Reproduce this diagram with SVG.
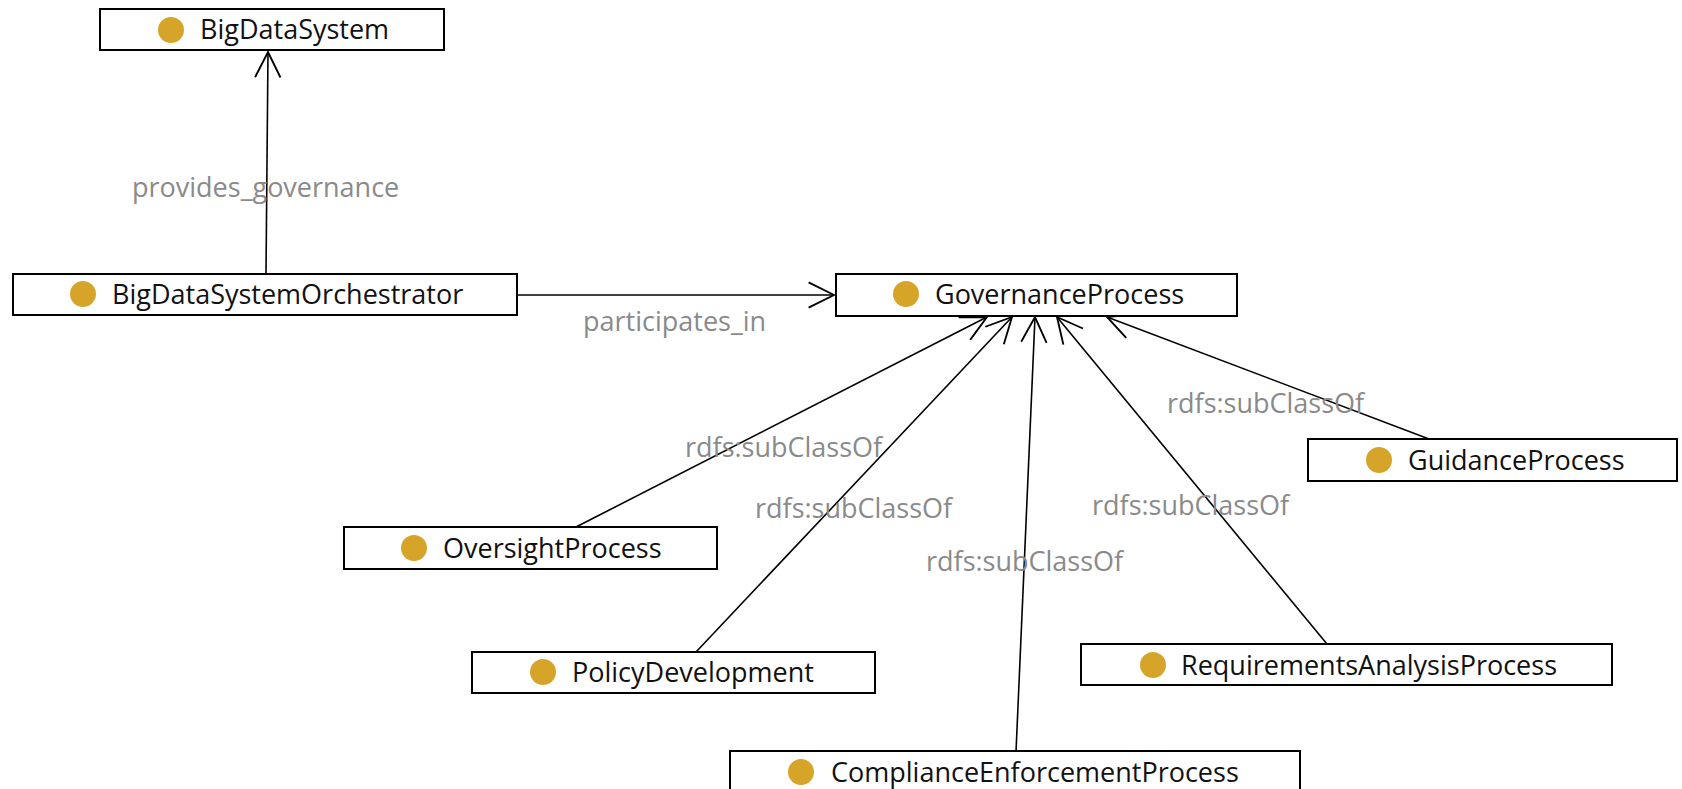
<svg xmlns="http://www.w3.org/2000/svg" width="1682" height="789" viewBox="0 0 1682 789">
  <style>
    .box { fill: #ffffff; stroke: #000000; stroke-width: 2; }
    .dot { fill: #d6a428; }
    .name { font-family: "Open Sans", "Noto Sans", "Liberation Sans", sans-serif; font-size: 27px; fill: #111111; }
    .edge { stroke: #000000; stroke-width: 1.6; fill: none; marker-end: url(#open-arrow); }
    .label { font-family: "Open Sans", "Noto Sans", "Liberation Sans", sans-serif; font-size: 27px; fill: #8a8a8a; }
  </style>
  <defs>
    <marker id="open-arrow" markerUnits="userSpaceOnUse" markerWidth="30" markerHeight="30" viewBox="-24 -13 26 26" refX="0" refY="0" orient="auto">
      <path d="M-22,-11 L0,0 L-22,11" fill="none" stroke="#000000" stroke-width="1.6"/>
    </marker>
  </defs>
  <rect width="1682" height="789" fill="#ffffff"/>

  <!-- connectors -->
  <g id="connectors">
    <line class="edge" x1="266" y1="274" x2="268" y2="52"/>
    <line class="edge" x1="517" y1="295" x2="834" y2="295"/>
    <line class="edge" x1="576" y1="527" x2="987" y2="317"/>
    <line class="edge" x1="696" y1="652" x2="1012" y2="317"/>
    <line class="edge" x1="1016" y1="752" x2="1035" y2="317"/>
    <line class="edge" x1="1327" y1="644" x2="1057" y2="317"/>
    <line class="edge" x1="1429" y1="439" x2="1107" y2="317"/>
    <text class="label" x="132" y="197">provides_governance</text>
    <text class="label" x="583" y="331">participates_in</text>
    <text class="label" x="685" y="457">rdfs:subClassOf</text>
    <text class="label" x="755" y="518">rdfs:subClassOf</text>
    <text class="label" x="926" y="571">rdfs:subClassOf</text>
    <text class="label" x="1092" y="515">rdfs:subClassOf</text>
    <text class="label" x="1167" y="413">rdfs:subClassOf</text>
  </g>

  <!-- class nodes -->
  <g id="BigDataSystem">
    <rect class="box" x="100" y="9" width="344" height="41"/>
    <circle class="dot" cx="171" cy="30" r="13"/>
    <text class="name" x="200" y="39">BigDataSystem</text>
  </g>
  <g id="BigDataSystemOrchestrator">
    <rect class="box" x="13" y="274" width="504" height="41"/>
    <circle class="dot" cx="83" cy="294" r="13"/>
    <text class="name" x="112" y="304">BigDataSystemOrchestrator</text>
  </g>
  <g id="GovernanceProcess">
    <rect class="box" x="836" y="274" width="401" height="42"/>
    <circle class="dot" cx="906" cy="294" r="13"/>
    <text class="name" x="935" y="304">GovernanceProcess</text>
  </g>
  <g id="GuidanceProcess">
    <rect class="box" x="1308" y="439" width="369" height="42"/>
    <circle class="dot" cx="1379" cy="460" r="13"/>
    <text class="name" x="1408" y="470">GuidanceProcess</text>
  </g>
  <g id="OversightProcess">
    <rect class="box" x="344" y="527" width="373" height="42"/>
    <circle class="dot" cx="414" cy="548" r="13"/>
    <text class="name" x="443" y="558">OversightProcess</text>
  </g>
  <g id="PolicyDevelopment">
    <rect class="box" x="472" y="652" width="403" height="41"/>
    <circle class="dot" cx="543" cy="672" r="13"/>
    <text class="name" x="572" y="682">PolicyDevelopment</text>
  </g>
  <g id="RequirementsAnalysisProcess">
    <rect class="box" x="1081" y="644" width="531" height="41"/>
    <circle class="dot" cx="1153" cy="665" r="13"/>
    <text class="name" x="1181" y="675">RequirementsAnalysisProcess</text>
  </g>
  <g id="ComplianceEnforcementProcess">
    <rect class="box" x="730" y="751" width="570" height="42"/>
    <circle class="dot" cx="801" cy="772" r="13"/>
    <text class="name" x="831" y="782">ComplianceEnforcementProcess</text>
  </g>
</svg>
